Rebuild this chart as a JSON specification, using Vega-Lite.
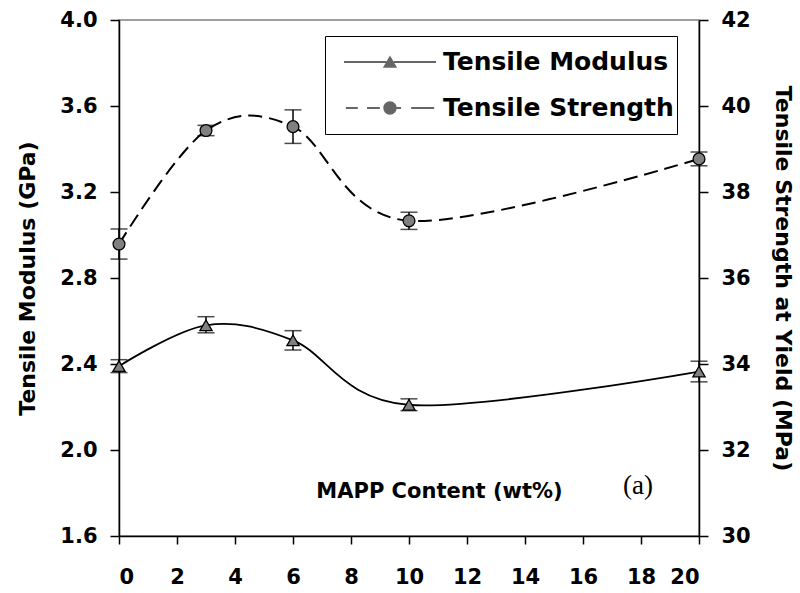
{
  "$schema": "https://vega.github.io/schema/vega-lite/v6.json",
  "width": 580,
  "height": 516,
  "autosize": {"type": "none"},
  "padding": {"left": 119, "top": 20, "right": 101, "bottom": 57},
  "background": "white",
  "config": {
    "view": {"stroke": "#808080", "strokeWidth": 1.5},
    "font": "DejaVu Sans",
    "axis": {
      "grid": false,
      "domainColor": "black",
      "domainWidth": 1.5,
      "tickColor": "black",
      "tickWidth": 1.5,
      "tickSize": 9,
      "labelFont": "DejaVu Sans",
      "labelFontWeight": "bold",
      "labelFontSize": 21,
      "labelColor": "black",
      "titleFont": "DejaVu Sans",
      "titleFontWeight": "bold",
      "titleFontSize": 22,
      "titleColor": "black"
    },
    "legend": {
      "orient": "none",
      "legendX": 206,
      "legendY": 16,
      "padding": 3,
      "strokeColor": "black",
      "fillColor": "white",
      "symbolSize": 8464,
      "symbolOffset": 15,
      "clipHeight": 46,
      "rowPadding": 0,
      "symbolStrokeWidth": 1.5,
      "symbolFillColor": "#666666",
      "symbolStrokeColor": "black",
      "symbolOpacity": 1,
      "labelFont": "DejaVu Sans",
      "labelFontWeight": "bold",
      "labelFontSize": 25,
      "labelColor": "black",
      "labelOffset": 6,
      "labelLimit": 400
    }
  },
  "datasets": {
    "modulus": [
      {"wt": 0, "val": 2.39, "lo": 2.36, "hi": 2.42},
      {"wt": 3, "val": 2.58, "lo": 2.545, "hi": 2.62},
      {"wt": 6, "val": 2.51, "lo": 2.465, "hi": 2.555},
      {"wt": 10, "val": 2.21, "lo": 2.183, "hi": 2.238},
      {"wt": 20, "val": 2.365, "lo": 2.317, "hi": 2.413}
    ],
    "strength": [
      {"wt": 0, "val": 36.79, "lo": 36.44, "hi": 37.14},
      {"wt": 3, "val": 39.43, "lo": 39.31, "hi": 39.55},
      {"wt": 6, "val": 39.52, "lo": 39.13, "hi": 39.91},
      {"wt": 10, "val": 37.33, "lo": 37.13, "hi": 37.53},
      {"wt": 20, "val": 38.77, "lo": 38.61, "hi": 38.93}
    ],
    "note": [
      {"wt": 17.9, "val": 1.833, "label": "(a)"}
    ]
  },
  "layer": [
    {
      "data": {"name": "modulus"},
      "layer": [
        {
          "mark": {"type": "line", "interpolate": "cardinal", "tension": 0, "color": "black", "strokeWidth": 1.8},
          "encoding": {
            "x": {
              "field": "wt", "type": "quantitative",
              "scale": {"domain": [0, 20], "nice": false},
              "axis": {
                "values": [0, 2, 4, 6, 8, 10, 12, 14, 16, 18, 20],
                "tickSize": 8,
                "labelPadding": 22,
                "title": "MAPP Content (wt%)",
                "titleFontSize": 21,
                "titleX": 320,
                "titleY": -39,
                "titleAlign": "center",
                "titleBaseline": "alphabetic"
              }
            },
            "y": {
              "field": "val", "type": "quantitative",
              "scale": {"domain": [1.6, 4.0], "nice": false, "zero": false},
              "axis": {
                "orient": "left",
                "values": [1.6, 2.0, 2.4, 2.8, 3.2, 3.6, 4.0],
                "format": ".1f",
                "labelPadding": 13,
                "title": "Tensile Modulus (GPa)",
                "titlePadding": 20
              }
            }
          }
        },
        {
          "mark": {"type": "rule", "color": "black", "strokeWidth": 1.5},
          "encoding": {
            "x": {"field": "wt", "type": "quantitative"},
            "y": {"field": "lo", "type": "quantitative"},
            "y2": {"field": "hi"}
          }
        },
        {
          "mark": {"type": "tick", "orient": "horizontal", "size": 17, "thickness": 1.5, "color": "black"},
          "encoding": {
            "x": {"field": "wt", "type": "quantitative"},
            "y": {"field": "lo", "type": "quantitative"}
          }
        },
        {
          "mark": {"type": "tick", "orient": "horizontal", "size": 17, "thickness": 1.5, "color": "black"},
          "encoding": {
            "x": {"field": "wt", "type": "quantitative"},
            "y": {"field": "hi", "type": "quantitative"}
          }
        },
        {
          "mark": {"type": "point", "shape": "triangle-up", "filled": true, "fill": "#808080", "stroke": "black", "strokeWidth": 1.3, "opacity": 1, "size": 150},
          "encoding": {
            "x": {"field": "wt", "type": "quantitative"},
            "y": {"field": "val", "type": "quantitative"}
          }
        },
        {
          "mark": {"type": "point", "filled": true, "fill": "#666666", "opacity": 0},
          "encoding": {
            "x": {"field": "wt", "type": "quantitative"},
            "y": {"field": "val", "type": "quantitative"},
            "shape": {
              "datum": "Tensile Modulus",
              "type": "nominal",
              "scale": {
                "domain": ["Tensile Modulus", "Tensile Strength"],
                "range": [
                  "M-1,-0.022L-0.08,-0.022L-0.08,0.022L-1,0.022ZM0.08,-0.022L1,-0.022L1,0.022L0.08,0.022ZM0,-0.14L0.155,0.125L-0.155,0.125Z",
                  "M-0.96,-0.022L-0.70,-0.022L-0.70,0.022L-0.96,0.022ZM-0.50,-0.022L-0.22,-0.022L-0.22,0.022L-0.50,0.022ZM0.12,-0.022L0.24,-0.022L0.24,0.022L0.12,0.022ZM0.46,-0.022L0.96,-0.022L0.96,0.022L0.46,0.022ZM-0.145,0A0.145,0.145,0,1,1,0.145,0A0.145,0.145,0,1,1,-0.145,0Z"
                ]
              },
              "legend": {"title": null}
            }
          }
        },
        {
          "data": {"name": "note"},
          "mark": {"type": "text", "font": "Liberation Serif", "fontSize": 27, "color": "black", "align": "center", "baseline": "middle"},
          "encoding": {
            "x": {"field": "wt", "type": "quantitative"},
            "y": {"field": "val", "type": "quantitative"},
            "text": {"field": "label"}
          }
        }
      ]
    },
    {
      "data": {"name": "strength"},
      "layer": [
        {
          "mark": {"type": "line", "interpolate": "cardinal", "tension": 0, "color": "black", "strokeWidth": 2, "strokeDash": [14, 7]},
          "encoding": {
            "x": {"field": "wt", "type": "quantitative"},
            "y": {
              "field": "val", "type": "quantitative",
              "scale": {"domain": [30, 42], "nice": false, "zero": false},
              "axis": {
                "orient": "right",
                "values": [30, 32, 34, 36, 38, 40, 42],
                "labelPadding": 13,
                "title": "Tensile Strength at Yield (MPa)",
                "titlePadding": 20
              }
            }
          }
        },
        {
          "mark": {"type": "rule", "color": "black", "strokeWidth": 1.5},
          "encoding": {
            "x": {"field": "wt", "type": "quantitative"},
            "y": {"field": "lo", "type": "quantitative"},
            "y2": {"field": "hi"}
          }
        },
        {
          "mark": {"type": "tick", "orient": "horizontal", "size": 17, "thickness": 1.5, "color": "black"},
          "encoding": {
            "x": {"field": "wt", "type": "quantitative"},
            "y": {"field": "lo", "type": "quantitative"}
          }
        },
        {
          "mark": {"type": "tick", "orient": "horizontal", "size": 17, "thickness": 1.5, "color": "black"},
          "encoding": {
            "x": {"field": "wt", "type": "quantitative"},
            "y": {"field": "hi", "type": "quantitative"}
          }
        },
        {
          "mark": {"type": "point", "shape": "circle", "filled": true, "fill": "#808080", "stroke": "black", "strokeWidth": 1.3, "opacity": 1, "size": 140},
          "encoding": {
            "x": {"field": "wt", "type": "quantitative"},
            "y": {"field": "val", "type": "quantitative"}
          }
        },
        {
          "mark": {"type": "point", "filled": true, "fill": "#666666", "opacity": 0},
          "encoding": {
            "x": {"field": "wt", "type": "quantitative"},
            "y": {"field": "val", "type": "quantitative"},
            "shape": {"datum": "Tensile Strength", "type": "nominal", "legend": {"title": null}}
          }
        }
      ]
    }
  ],
  "resolve": {"scale": {"y": "independent"}}
}
